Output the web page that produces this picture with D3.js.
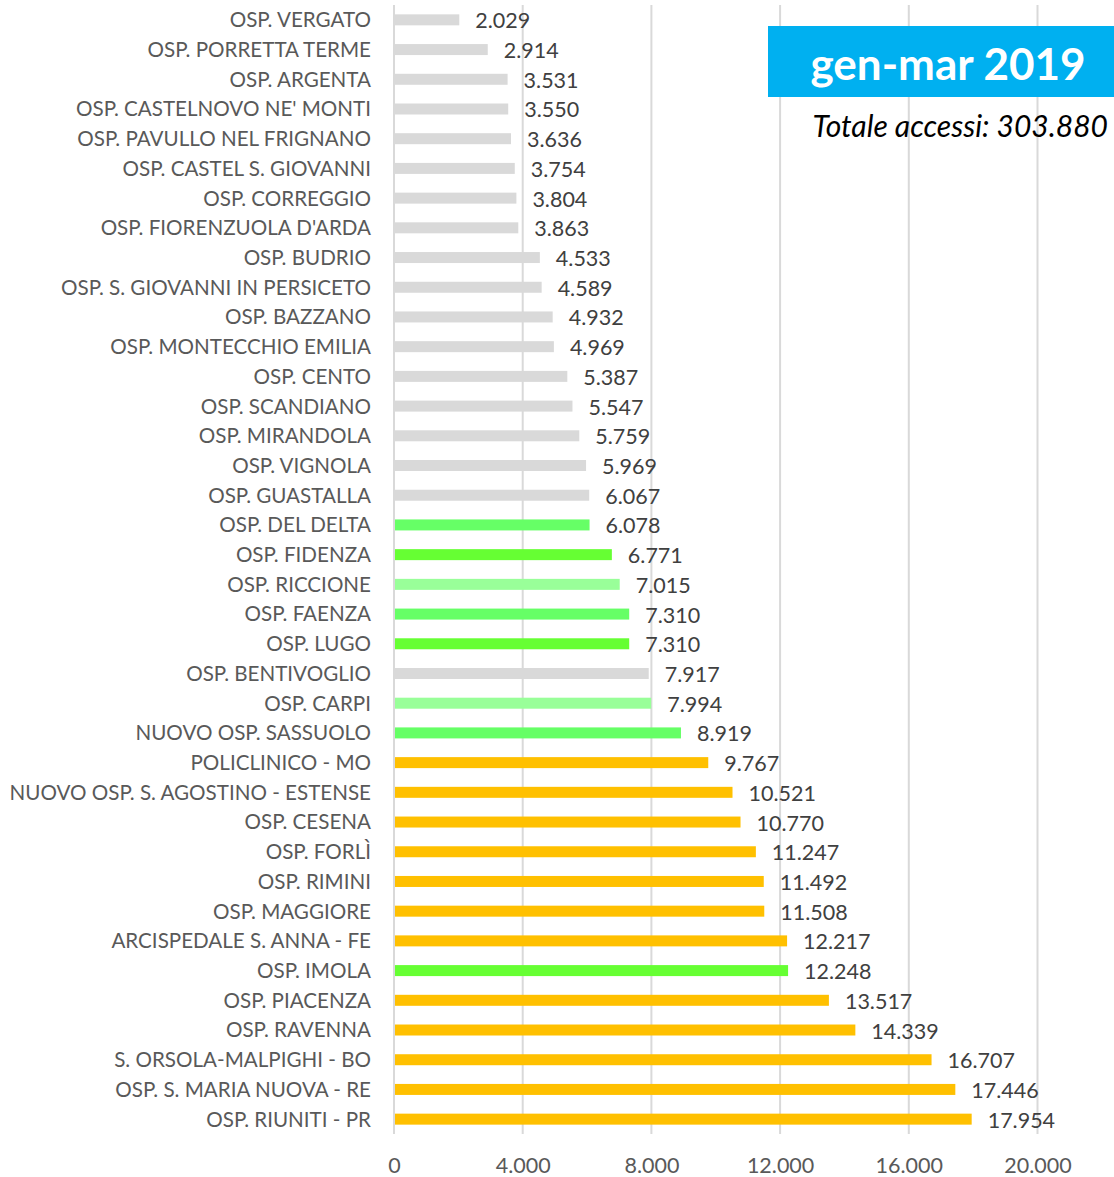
<!DOCTYPE html>
<html>
<head>
<meta charset="utf-8">
<script src="https://cdn.jsdelivr.net/npm/d3@7"></script>
<style>
  html, body { margin: 0; padding: 0; background: #fff; }
  svg { display: block; }
  text { font-family: Lato, "Open Sans", sans-serif; }
</style>
</head>
<body>
<svg id="chart" width="1114" height="1177"></svg>
<script>
// ---- data ----
const hospitals = [
  "OSP. VERGATO", "OSP. PORRETTA TERME", "OSP. ARGENTA", "OSP. CASTELNOVO NE' MONTI",
  "OSP. PAVULLO NEL FRIGNANO", "OSP. CASTEL S. GIOVANNI", "OSP. CORREGGIO",
  "OSP. FIORENZUOLA D'ARDA", "OSP. BUDRIO", "OSP. S. GIOVANNI IN PERSICETO",
  "OSP. BAZZANO", "OSP. MONTECCHIO EMILIA", "OSP. CENTO", "OSP. SCANDIANO",
  "OSP. MIRANDOLA", "OSP. VIGNOLA", "OSP. GUASTALLA", "OSP. DEL DELTA",
  "OSP. FIDENZA", "OSP. RICCIONE", "OSP. FAENZA", "OSP. LUGO", "OSP. BENTIVOGLIO",
  "OSP. CARPI", "NUOVO OSP. SASSUOLO", "POLICLINICO - MO",
  "NUOVO OSP. S. AGOSTINO - ESTENSE", "OSP. CESENA", "OSP. FORLÌ", "OSP. RIMINI",
  "OSP. MAGGIORE", "ARCISPEDALE S. ANNA - FE", "OSP. IMOLA", "OSP. PIACENZA",
  "OSP. RAVENNA", "S. ORSOLA-MALPIGHI - BO", "OSP. S. MARIA NUOVA - RE",
  "OSP. RIUNITI - PR"
];
const accessi = [
  2029, 2914, 3531, 3550, 3636, 3754, 3804, 3863, 4533, 4589, 4932, 4969, 5387,
  5547, 5759, 5969, 6067, 6078, 6771, 7015, 7310, 7310, 7917, 7994, 8919, 9767,
  10521, 10770, 11247, 11492, 11508, 12217, 12248, 13517, 14339, 16707, 17446, 17954
];
// category group of each hospital (mapped to a colour below)
const groups = [
  "base", "base", "base", "base", "base", "base", "base", "base", "base", "base",
  "base", "base", "base", "base", "base", "base", "base", "greenA", "greenB",
  "greenC", "greenA", "greenB", "base", "greenC", "greenA", "hub", "hub", "hub",
  "hub", "hub", "hub", "hub", "greenB", "hub", "hub", "hub", "hub", "hub"
];
const xTicks = [0, 4000, 8000, 12000, 16000, 20000];
const titleText = "gen-mar 2019";
const totalText = "Totale accessi: 303.880";

// ---- setup ----
const colorOf = d3.scaleOrdinal()
  .domain(["base", "greenA", "greenB", "greenC", "hub"])
  .range(["#d9d9d9", "#66ff66", "#66ff33", "#99ff99", "#ffc000"]);

const fmt = d3.formatLocale({ decimal: ",", thousands: ".", grouping: [3], currency: ["€", ""] }).format(",d");

const svg = d3.select("#chart");
const margin = { left: 394, right: 76, top: 5, bottom: 43 };
const width = 1114, height = 1177;

const x = d3.scaleLinear().domain([0, 20000]).range([margin.left, width - margin.right - 0.5]);
const y = d3.scaleBand().domain(hospitals)
  .range([5, 1134]).paddingInner(0.63).paddingOuter(0.315);

const rows = hospitals.map((h, i) => ({ name: h, value: accessi[i], group: groups[i] }));

// gridlines
svg.append("g")
  .selectAll("line")
  .data(xTicks)
  .join("line")
  .attr("x1", d => x(d)).attr("x2", d => x(d))
  .attr("y1", 5).attr("y2", 1134)
  .attr("stroke", "#d9d9d9")
  .attr("stroke-width", 2);

// bars
svg.append("g")
  .selectAll("rect")
  .data(rows)
  .join("rect")
  .attr("x", x(0) + 1)
  .attr("y", d => y(d.name))
  .attr("width", d => x(d.value) - x(0) - 1)
  .attr("height", y.bandwidth())
  .attr("fill", d => colorOf(d.group));

// value labels
svg.append("g")
  .selectAll("text")
  .data(rows)
  .join("text")
  .attr("x", d => x(d.value) + 16)
  .attr("y", d => y(d.name) + y.bandwidth() / 2 + 8.5)
  .attr("font-size", 21.5)
  .attr("fill", "#404040")
  .text(d => fmt(d.value));

// category axis
const yAxis = svg.append("g")
  .attr("transform", `translate(${margin.left},0)`)
  .call(d3.axisLeft(y).tickSize(0).tickPadding(23));
yAxis.select(".domain").remove();
yAxis.selectAll("text")
  .attr("font-size", 20.6)
  .attr("font-family", "Lato, 'Open Sans', sans-serif")
  .attr("fill", "#595959")
  .attr("dy", "0.36em");

// value axis
const xAxis = svg.append("g")
  .attr("transform", `translate(0,1134)`)
  .call(d3.axisBottom(x).tickValues(xTicks).tickFormat(fmt).tickSize(0).tickPadding(24));
xAxis.select(".domain").remove();
xAxis.selectAll("text")
  .attr("font-size", 21.5)
  .attr("font-family", "Lato, 'Open Sans', sans-serif")
  .attr("fill", "#595959");

// title box
svg.append("rect")
  .attr("x", 768).attr("y", 26)
  .attr("width", 346).attr("height", 71)
  .attr("fill", "#00b0f0");
svg.append("text")
  .attr("x", 948).attr("y", 80)
  .attr("text-anchor", "middle")
  .attr("font-size", 44)
  .attr("font-weight", "bold")
  .attr("fill", "#fff")
  .text(titleText);
svg.append("text")
  .attr("x", 1108).attr("y", 137)
  .attr("text-anchor", "end")
  .attr("font-size", 30)
  .attr("font-style", "italic")
  .attr("fill", "#000")
  .text(totalText);
</script>
</body>
</html>
